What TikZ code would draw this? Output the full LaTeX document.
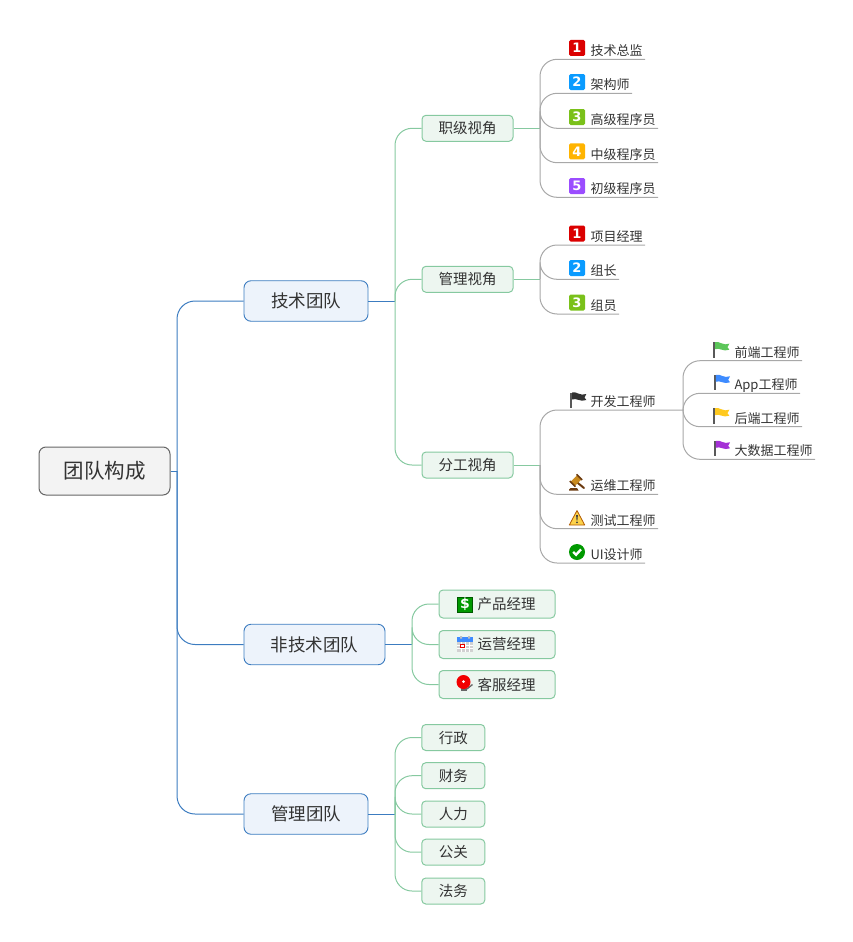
\documentclass[tikz,border=0pt]{standalone}
\usepackage{fontspec}
\setmainfont{Noto Sans CJK SC}
\newfontfamily\digitfont{DejaVu Sans}
\usepackage{xcolor}
\usetikzlibrary{arrows.meta,positioning,calc}
\definecolor{inktext}{HTML}{333333}
\definecolor{rootline}{HTML}{666666}
\definecolor{rootfill}{HTML}{F3F3F3}
\definecolor{teamline}{HTML}{3C7CC0}
\definecolor{teamfill}{HTML}{EDF3FB}
\definecolor{viewline}{HTML}{86C9A0}
\definecolor{viewfill}{HTML}{EDF6F0}
\definecolor{leafline}{HTML}{A8A8A8}
\definecolor{numred}{HTML}{DB0000}
\definecolor{numblue}{HTML}{0A9BFF}
\definecolor{numgreen}{HTML}{7AC11A}
\definecolor{numorange}{HTML}{FFB400}
\definecolor{numpurple}{HTML}{9B4DFF}
\definecolor{flaggreen}{HTML}{5CC65A}
\definecolor{flagblue}{HTML}{3D8BFF}
\definecolor{flagyellow}{HTML}{FFC91F}
\definecolor{flagpurple}{HTML}{A431D6}
\definecolor{flagdark}{HTML}{333333}
\definecolor{gavelhead}{HTML}{C98A1E}
\definecolor{gavelbase}{HTML}{6B3A10}
\tikzset{
  rootbox/.style={rounded corners=7pt,draw=rootline,line width=1pt,fill=rootfill,
                 minimum width=131pt,minimum height=48pt,inner sep=0pt,
                 text=inktext,font=\fontsize{20.5}{24}\selectfont},
  teambox/.style={rounded corners=7pt,draw=teamline,line width=0.9pt,fill=teamfill,
                 minimum height=40.5pt,inner sep=0pt,
                 text=inktext,font=\fontsize{17.5}{20}\selectfont},
  viewbox/.style={rounded corners=4pt,draw=viewline,line width=1pt,fill=viewfill,
                 minimum height=26pt,inner sep=0pt,
                 text=inktext,font=\fontsize{14.5}{17}\selectfont},
  iconbox/.style={viewbox,minimum width=116pt,minimum height=28pt,
                 execute at begin node=\hspace*{19pt}},
  leaf/.style  ={anchor=south west,inner xsep=0pt,inner ysep=0pt,outer sep=0pt,
                 text height=11pt,text depth=3.6pt,text=inktext,
                 font=\fontsize{13}{15}\selectfont,
                 execute at begin node=\hspace*{24.5pt},
                 execute at end node=\hspace*{2.5pt}},
  numicon/.style={rounded corners=1.5pt,minimum size=16pt,inner sep=0pt,text=white,
                 font=\digitfont\bfseries\fontsize{13}{13}\selectfont},
  trunkteam/.style={line width=1pt,draw=teamline,rounded corners=18pt},
  trunkview/.style={line width=1pt,draw=viewline,rounded corners=17pt},
  trunkleaf/.style={line width=1pt,draw=leafline,rounded corners=17pt},
  flagicon/.pic={
    \fill[black!65] (0,0) rectangle (1.8,-15.5);
    \fill[#1] (1.8,-15.5) .. controls (6,-17) and (10,-11.5) .. (16,-14)
      -- (14.2,-10.5) -- (16,-8) .. controls (10,-5.5) and (6,-10.5) .. (1.8,-8.5) -- cycle;
  },
  gavelicon/.pic={
    \fill[gavelbase] (0,14.5) -- (1.5,13) -- (8,13) -- (9.5,15.5) -- (0,15.5) -- cycle;
    \draw[gavelbase,line width=2pt,line cap=round] (7,6.5) -- (15,13);
    \fill[gavelhead,rotate around={45:(7,5.5)}] (2.5,2.5) rectangle (11.5,8.5);
    \fill[gavelbase,rotate around={45:(7,5.5)}] (1.5,1.5) rectangle (3,9.5);
    \fill[gavelbase,rotate around={45:(7,5.5)}] (11,1.5) rectangle (12.5,9.5);
  },
  warnicon/.pic={
    \draw[fill=yellow!55!orange!70,draw=orange!70!black,line width=0.8pt,line join=round]
      (8,0.5) -- (15.7,15) -- (0.3,15) -- cycle;
    \fill[black!75] (7.1,5) -- (8.9,5) -- (8.4,10.5) -- (7.6,10.5) -- cycle;
    \fill[black!75] (8,12.3) circle (1pt);
  },
  checkicon/.pic={
    \fill[green!60!black] (8,8) circle (8pt);
    \draw[white,line width=2.4pt] (4.2,8) -- (7,10.8) -- (12,5.4);
  },
  dollaricon/.pic={
    \draw[fill=green!60!black,draw=green!35!black,line width=0.7pt] (0.5,0.5) rectangle (15.5,15.5);
    \node[text=white,inner sep=0pt,font=\digitfont\bfseries\fontsize{14}{14}\selectfont] at (8,8) {\$};
  },
  calicon/.pic={
    \fill[black!18] (0,4) rectangle (16,16);
    \draw[white,line width=0.5pt] (0,9) -- (16,9) (0,12.5) -- (16,12.5)
      (4,6) -- (4,16) (8,6) -- (8,16) (12,6) -- (12,16);
    \fill[flagblue] (0,1) rectangle (16,6);
    \fill[black!25] (3,0) rectangle (5,2.5) (11,0) rectangle (13,2.5);
    \draw[red!90!black,line width=0.9pt,fill=white] (3.6,8.4) rectangle (7,11.6);
  },
  alarmicon/.pic={
    \fill[black!60] (4,13) rectangle (10,16);
    \draw[black!60,line width=1.3pt] (10,14) -- (15.5,9.5);
    \fill[red!95!black] (6.5,7) circle (7pt);
    \fill[white] (6.5,6.5) circle (1.5pt);
  }
}
\begin{document}
\begin{tikzpicture}[x=1pt,y=-1pt]
  \useasboundingbox (0,0) rectangle (852,942);
  % hubs
  \coordinate (roothub) at (177,471);
  \coordinate (techhub) at (395,301);
  \coordinate (nonhub)  at (412,644.5);
  \coordinate (mgmthub) at (395,814);
  \coordinate (rankhub) at (540,128.3);
  \coordinate (leadhub) at (540,279.3);
  \coordinate (workhub) at (540,465);
  \coordinate (devhub)  at (683,410);
  % boxes
  \node[rootbox] (root) at (104.5,471) {团队构成};
  \node[teambox,minimum width=124pt] (tech) at (306,301) {技术团队};
  \node[teambox,minimum width=141pt] (non) at (314.5,644.5) {非技术团队};
  \node[teambox,minimum width=124pt] (mgmt) at (306,814) {管理团队};
  \node[viewbox,minimum width=91pt] (rank) at (467.5,128.3) {职级视角};
  \node[viewbox,minimum width=91pt] (lead) at (467.5,279.3) {管理视角};
  \node[viewbox,minimum width=91pt] (work) at (467.5,465) {分工视角};
  \node[iconbox] (prod) at (497,604) {产品经理};
  \node[iconbox] (oper) at (497,644.5) {运营经理};
  \node[iconbox] (serv) at (497,684.5) {客服经理};
  \node[viewbox,minimum width=63pt] (admin) at (453.3,737.5) {行政};
  \node[viewbox,minimum width=63pt] (fin) at (453.3,775.7) {财务};
  \node[viewbox,minimum width=63pt] (hr) at (453.3,814) {人力};
  \node[viewbox,minimum width=63pt] (pr) at (453.3,852.2) {公关};
  \node[viewbox,minimum width=63pt] (law) at (453.3,891) {法务};
  % leaves
  \node[leaf] (cto) at (566,59.3) {技术总监};
  \node[leaf] (arch) at (566,93.3) {架构师};
  \node[leaf] (senior) at (566,128.3) {高级程序员};
  \node[leaf] (middle) at (566,162.7) {中级程序员};
  \node[leaf] (junior) at (566,197.3) {初级程序员};
  \node[leaf] (pm) at (566,245) {项目经理};
  \node[leaf] (tl) at (566,279.3) {组长};
  \node[leaf] (member) at (566,314) {组员};
  \node[leaf] (dev) at (566,410) {开发工程师};
  \node[leaf] (ops) at (566,494.3) {运维工程师};
  \node[leaf] (qa) at (566,528.7) {测试工程师};
  \node[leaf] (ui) at (566,563) {UI设计师};
  \node[leaf] (front) at (710,360.7) {前端工程师};
  \node[leaf] (app) at (710,393.3) {App工程师};
  \node[leaf] (back) at (710,426.7) {后端工程师};
  \node[leaf] (data) at (710,459.3) {大数据工程师};
  % icons
  \node[numicon,fill=numred] (cto1) at (577,48) {1};
  \node[numicon,fill=numblue] (arch2) at (577,82) {2};
  \node[numicon,fill=numgreen] (senior3) at (577,117) {3};
  \node[numicon,fill=numorange] (middle4) at (577,151.4) {4};
  \node[numicon,fill=numpurple] (junior5) at (577,186) {5};
  \node[numicon,fill=numred] (pm1) at (577,233.5) {1};
  \node[numicon,fill=numblue] (tl2) at (577,268) {2};
  \node[numicon,fill=numgreen] (member3) at (577,302.5) {3};
  \pic at (570.3,408) {flagicon=flagdark};
  \pic at (713.3,357.7) {flagicon=flaggreen};
  \pic at (714,390.3) {flagicon=flagblue};
  \pic at (713.3,423.7) {flagicon=flagyellow};
  \pic at (714,456.3) {flagicon=flagpurple};
  \pic at (569,475) {gavelicon};
  \pic at (569,510) {warnicon};
  \pic at (569,544) {checkicon};
  \pic at (457,596.5) {dollaricon};
  \pic at (457,636) {calicon};
  \pic at (457,675) {alarmicon};
  % connectors
  \draw[trunkteam] (root.east) -- (roothub);
  \foreach \kid in {tech,non,mgmt}
    \draw[trunkteam] (roothub) |- (\kid.west);
  \draw[trunkteam] (tech.east) -- (techhub);
  \draw[trunkteam] (non.east) -- (nonhub);
  \draw[trunkteam] (mgmt.east) -- (mgmthub);
  \foreach \kid in {rank,lead,work}
    \draw[trunkview] (techhub) |- (\kid.west);
  \foreach \kid in {prod,oper,serv}
    \draw[trunkview] (nonhub) |- (\kid.west);
  \foreach \kid in {admin,fin,hr,pr,law}
    \draw[trunkview] (mgmthub) |- (\kid.west);
  \draw[trunkview] (rank.east) -- (rankhub);
  \draw[trunkview] (lead.east) -- (leadhub);
  \draw[trunkview] (work.east) -- (workhub);
  \foreach \kid in {cto,arch,senior,middle,junior}
    \draw[trunkleaf] (rankhub) |- (\kid.south east);
  \foreach \kid in {pm,tl,member}
    \draw[trunkleaf] (leadhub) |- (\kid.south east);
  \foreach \kid in {ops,qa,ui}
    \draw[trunkleaf] (workhub) |- (\kid.south east);
  \draw[trunkleaf] (workhub) |- (devhub);
  \foreach \kid in {front,app,back,data}
    \draw[trunkleaf] (devhub) |- (\kid.south east);
\end{tikzpicture}
\end{document}
